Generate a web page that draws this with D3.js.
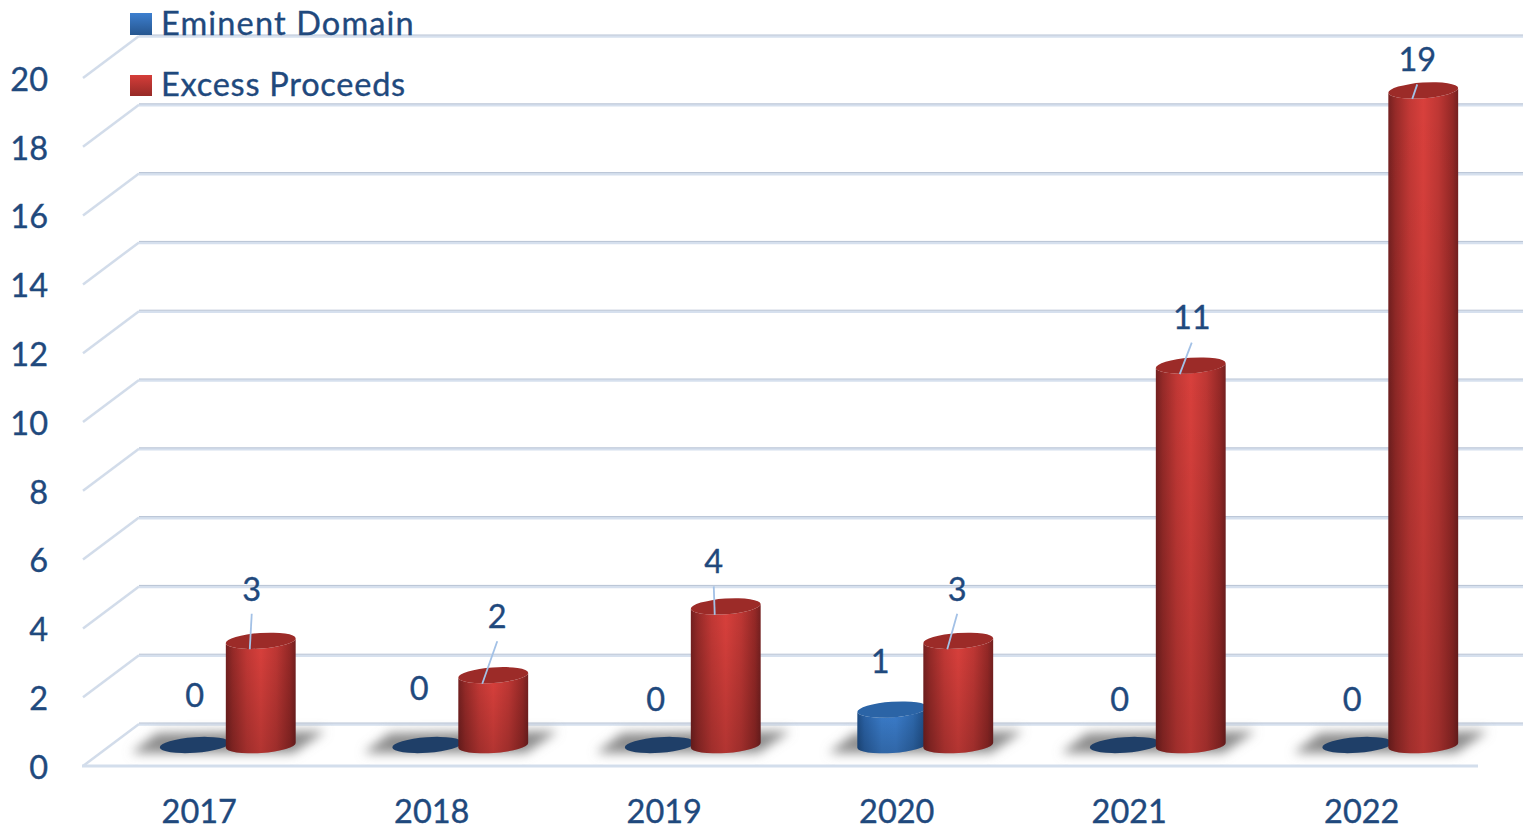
<!DOCTYPE html>
<html><head><meta charset="utf-8">
<script src="https://cdn.jsdelivr.net/npm/d3@7"></script>
<style>html,body{margin:0;padding:0;background:#fff;overflow:hidden}svg{display:block}text{font-family:Lato,"Open Sans",sans-serif;fill:#1f497d;stroke:#1f497d;stroke-width:.35}</style>
</head><body>
<script>
const years = ["2017","2018","2019","2020","2021","2022"];
const seriesNames = ["Eminent Domain","Excess Proceeds"];
const eminentDomain = [0,0,0,1,0,0];
const excessProceeds = [3,2,4,3,11,19];
const yTicks = [0,2,4,6,8,10,12,14,16,18,20];

// layout only: label nudges relative to each bar top
const eminentNudge = [[0,-49],[-8,-56],[-4,-45],[-12,-48],[-5,-45],[-5,-45]];
const excessNudge = [[-9,-52],[4,-59],[-12,-45],[-1,-52],[1,-48],[-6,-31]];
const legendSpacing = [1.15,.75];

const W=1523,H=830,fontSize=32.5;
const svg=d3.select("body").append("svg").attr("width",W).attr("height",H);
const defs=svg.append("defs");

const x=d3.scaleBand().domain(years).range([83,1478]);
const y=d3.scaleLinear().domain([0,20]).range([766,78]);
const inner=d3.scalePoint().domain(seriesNames).range([-4.5,61.5]);
const depthX=57,depthY=42,baseLift=22,rx=35,ry=7.8,tilt=4;
const cat=d=>x(d)+x.bandwidth()/2;

function grad(id,stops,vertical){
  const g=defs.append("linearGradient").attr("id",id).attr("x1",0).attr("y1",0).attr("x2",vertical?0:1).attr("y2",vertical?1:0);
  stops.forEach(s=>g.append("stop").attr("offset",s[0]).attr("stop-color",s[1]).attr("stop-opacity",s[2]===undefined?1:s[2]));
}
grad("redBody",[[0,"#742020"],[.1,"#962a28"],[.3,"#c23835"],[.5,"#d9403c"],[.72,"#bf3734"],[.92,"#942826"],[1,"#742020"]]);
grad("blueBody",[[0,"#1e4d85"],[.1,"#2a62a6"],[.35,"#3a7cca"],[.55,"#3b7dcc"],[.8,"#2e69ae"],[1,"#1c4a80"]]);
grad("shade",[[0,"#000",0],[.2,"#000",.03],[1,"#000",.18]],true);
grad("legBlue",[[0,"#3d7fcf"],[1,"#26568f"]],true);
grad("legRed",[[0,"#d53d39"],[1,"#962a27"]],true);
defs.append("filter").attr("id","blur").attr("x","-25%").attr("y","-80%").attr("width","150%").attr("height","260%")
  .append("feGaussianBlur").attr("stdDeviation",5.5);

// gridlines
const grid=svg.append("g");
yTicks.forEach(v=>{
  const yy=y(v);
  grid.append("line").attr("x1",x.range()[0]).attr("y1",yy).attr("x2",x.range()[0]+depthX-1).attr("y2",yy-depthY)
    .attr("stroke","#d2dcea").attr("stroke-width",2.5);
  grid.append("line").attr("x1",139).attr("x2",W).attr("y1",yy-depthY+.5).attr("y2",yy-depthY+.5)
    .attr("stroke","#d6e0ee").attr("stroke-width",2.6);
  grid.append("line").attr("x1",139).attr("x2",W).attr("y1",yy-depthY-1).attr("y2",yy-depthY-1)
    .attr("stroke","#b7c2d4").attr("stroke-width",1);
});
grid.append("line").attr("x1",82).attr("x2",1478).attr("y1",y(0)).attr("y2",y(0))
  .attr("stroke","#d3deec").attr("stroke-width",3);

// shadows on the floor
svg.append("g").selectAll("path").data(years).join("path")
  .attr("d",d=>{const c=cat(d),b=y(0);return `M${c-68},${b-13} L${c-42},${b-33} L${c+126},${b-35} L${c+94},${b-13} Z`;})
  .attr("fill","#8c8c8c").attr("filter","url(#blur)");

// axis labels
svg.append("g").selectAll("text").data(yTicks).join("text")
  .attr("x",48).attr("y",d=>y(d)+1).attr("dy","0.36em").attr("text-anchor","end").attr("font-size",fontSize).text(d=>d);
svg.append("g").selectAll("text").data(years).join("text")
  .attr("x",d=>cat(d)).attr("y",823.4).attr("text-anchor","middle").attr("font-size",fontSize).text(d=>d);

const t=tilt*Math.PI/180,dxE=rx*Math.cos(t),dyE=rx*Math.sin(t);
function drawSeries(name,values,body,top){
  const g=svg.append("g");
  values.forEach((v,i)=>{
    const cx=cat(years[i])+inner(name),by=y(0)-baseLift+1.2,ty=y(v)-baseLift;
    if(v>0){
      const p=`M${cx-dxE},${ty+dyE} L${cx-dxE},${by+dyE} A${rx},${ry} ${-tilt} 0 0 ${cx+dxE},${by-dyE} L${cx+dxE},${ty-dyE} A${rx},${ry} ${-tilt} 0 1 ${cx-dxE},${ty+dyE} Z`;
      g.append("path").attr("d",p).attr("fill",`url(#${body})`);
      g.append("path").attr("d",p).attr("fill","url(#shade)");
    }
    g.append("ellipse").attr("cx",cx).attr("cy",v>0?ty:ty+1).attr("rx",rx).attr("ry",ry)
      .attr("transform",`rotate(${-tilt} ${cx} ${v>0?ty:ty+1})`).attr("fill",v>0?top:"#1f3f68");
  });
}
drawSeries(seriesNames[0],eminentDomain,"blueBody","#2b64a6");
drawSeries(seriesNames[1],excessProceeds,"redBody","#9c2b28");

// data labels + leader lines
function drawLabels(name,values,nudges,leader){
  values.forEach((v,i)=>{
    const cx=cat(years[i])+inner(name),ty=y(v)-baseLift;
    const lx=cx+nudges[i][0],ly=ty+nudges[i][1];
    if(leader) svg.append("line").attr("x1",lx).attr("y1",ly+25).attr("x2",cx-11).attr("y2",ty+8.5)
      .attr("stroke","#a3c1e6").attr("stroke-width",1.8);
    svg.append("text").attr("x",lx).attr("y",ly).attr("dy","0.36em").attr("text-anchor","middle").attr("font-size",fontSize).text(v);
  });
}
drawLabels(seriesNames[0],eminentDomain,eminentNudge,false);
drawLabels(seriesNames[1],excessProceeds,excessNudge,true);

// legend
const leg=svg.append("g").selectAll("g").data(seriesNames).join("g");
leg.append("rect").attr("x",130).attr("y",(d,i)=>13+i*62).attr("width",22).attr("height",(d,i)=>22-i)
  .attr("fill",(d,i)=>i?"url(#legRed)":"url(#legBlue)");
leg.append("text").attr("x",161).attr("y",(d,i)=>35+i*61).attr("font-size",fontSize).attr("letter-spacing",(d,i)=>legendSpacing[i]).text(d=>d);
</script>
</body></html>
